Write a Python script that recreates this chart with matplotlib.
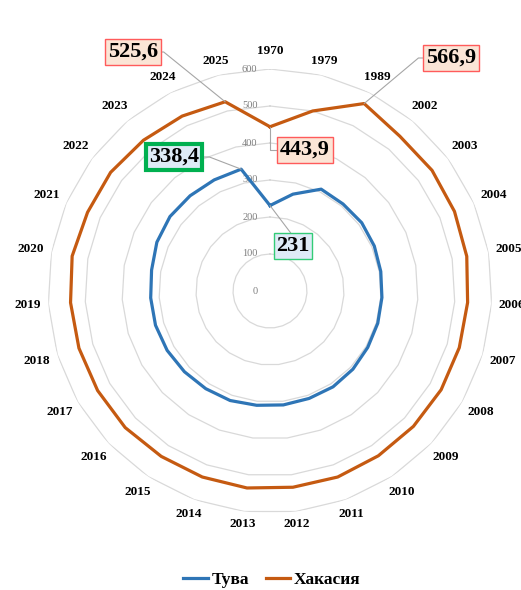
import numpy as np
import matplotlib
matplotlib.use("Agg")
import matplotlib.pyplot as plt
from matplotlib.lines import Line2D

plt.rcParams['font.family'] = ['Liberation Serif', 'DejaVu Serif']

# data
years = ['1970', '1979', '1989', '2002', '2003', '2004', '2005', '2006', '2007',
         '2008', '2009', '2010', '2011', '2012', '2013', '2014', '2015', '2016',
         '2017', '2018', '2019', '2020', '2021', '2022', '2023', '2024', '2025']
tuva = [231, 269, 308, 307, 309, 307, 304, 303, 304, 305, 308, 310, 309, 310,
        311, 315, 316, 318, 321, 323, 323, 325, 333, 337, 336, 336, 338.4]
khakasia = [443.9, 500, 566.9, 546, 546, 543, 540, 535, 534, 534, 533, 533, 535,
            534, 536, 535, 535, 538, 538, 539, 540, 543, 537, 537, 532, 529, 525.6]
rticks = [0, 100, 200, 300, 400, 500, 600]

W, H = 521, 590
fig = plt.figure(figsize=(W / 100, H / 100), dpi=100)
cx, cy, R = 270, 291, 222
ax = fig.add_axes([(cx - R) / W, (H - cy - R) / H, 2 * R / W, 2 * R / H], projection='polar')
ax.set_theta_zero_location('N')
ax.set_theta_direction(-1)
ax.set_ylim(0, 600)
ax.grid(False)
ax.spines['polar'].set_visible(False)
ax.set_xticks([])
ax.set_yticks([])

n = len(years)
ang = np.arange(n) * 2 * np.pi / n
angc = np.append(ang, ang[0])

# polygon gridlines
for r in rticks[1:]:
    ax.plot(angc, [r] * (n + 1), color='#D9D9D9', lw=0.9, zorder=1)
for r in rticks:
    ax.annotate(str(r), xy=(0, r), xytext=(-9, 0), textcoords='offset points',
                ha='right', va='center', fontsize=7.5, color='#7F7F7F', zorder=2)

c_tuva = '#2E75B6'
c_kh = '#C55A11'
ax.plot(angc, tuva + [tuva[0]], color=c_tuva, lw=2.3, zorder=3)
ax.plot(angc, khakasia + [khakasia[0]], color=c_kh, lw=2.3, zorder=3)

# category labels
px = 600 / R
for a, lab in zip(ang, years):
    rp = 227 + 15 * abs(np.sin(a)) + 6 * abs(np.cos(a))
    if lab == '1970':
        rp += 7
    ax.text(a, rp * px, lab, ha='center', va='center', fontsize=9.5,
            fontweight='bold', clip_on=False)

# data labels
def fpix(x, y):
    return (x, H - y)

peach = dict(boxstyle='square,pad=0.12', fc='#FBE5D6', ec='#FF5B5B', lw=1)
lab_kw = dict(textcoords='figure pixels', fontsize=16, fontweight='bold',
              ha='center', va='center', zorder=5, annotation_clip=False)
line = dict(arrowstyle='-', color='#A6A6A6', lw=0.8, shrinkA=0, shrinkB=0)

ax.annotate('525,6', xy=(ang[-1], khakasia[-1]), xytext=fpix(133, 52), bbox=peach,
            arrowprops=dict(line, relpos=(1, 0.5),
                            connectionstyle='angle,angleA=0,angleB=-39,rad=0'), **lab_kw)
ax.annotate('566,9', xy=(ang[2], khakasia[2]), xytext=fpix(451, 58), bbox=peach,
            arrowprops=dict(line, relpos=(0, 0.5),
                            connectionstyle='angle,angleA=0,angleB=40,rad=0'), **lab_kw)
ax.annotate('443,9', xy=(ang[0], khakasia[0]), xytext=fpix(305, 150), bbox=peach,
            arrowprops=dict(line, relpos=(0, 0.5),
                            connectionstyle='angle,angleA=0,angleB=90,rad=0'), **lab_kw)
ax.annotate('338,4', xy=(ang[-1], tuva[-1]), xytext=fpix(174, 157),
            bbox=dict(boxstyle='square,pad=0.12', fc='#DEEBF7', ec='#00B050', lw=3),
            arrowprops=dict(line, relpos=(1, 0.5),
                            connectionstyle='angle,angleA=0,angleB=-21,rad=0'), **lab_kw)
ax.annotate('231', xy=(ang[0], tuva[0]), xytext=fpix(293, 246),
            bbox=dict(boxstyle='square,pad=0.12', fc='#DEEBF7', ec='#33CC77', lw=1),
            arrowprops=dict(line, relpos=(0.5, 1)), **lab_kw)

handles = [Line2D([], [], color=c_tuva, lw=2.3), Line2D([], [], color=c_kh, lw=2.3)]
fig.legend(handles, ['Тува', 'Хакасия'], loc='center', bbox_to_anchor=(272 / W, 1 - 580 / H),
           ncol=2, frameon=False, prop=dict(weight='bold', size=12.5),
           handlelength=1.4, handletextpad=0.2, columnspacing=1.0)

fig.savefig('out.png', dpi=100)
